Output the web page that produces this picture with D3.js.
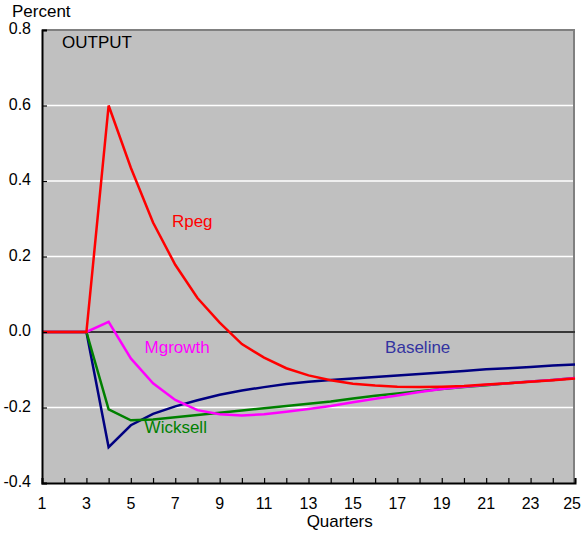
<!DOCTYPE html>
<html><head><meta charset="utf-8">
<script src="https://cdn.jsdelivr.net/npm/d3@7"></script>
<style>body{margin:0;background:#fff}svg{display:block}text{font-family:"Liberation Sans",Arial,sans-serif}</style>
</head><body>
<script>
const quarters = d3.range(1, 26);
const rpeg = [0,0,0,0.6,0.435,0.29,0.178,0.09,0.025,-0.032,-0.068,-0.096,-0.115,-0.128,-0.137,-0.142,-0.145,-0.146,-0.145,-0.143,-0.139,-0.136,-0.132,-0.128,-0.123];
const mgrowth = [0,0,0,0.027,-0.07,-0.136,-0.18,-0.207,-0.218,-0.221,-0.218,-0.211,-0.204,-0.196,-0.186,-0.177,-0.168,-0.159,-0.151,-0.145,-0.140,-0.136,-0.131,-0.127,-0.122];
const wicksell = [0,0,0,-0.205,-0.234,-0.232,-0.226,-0.220,-0.214,-0.208,-0.202,-0.196,-0.190,-0.184,-0.176,-0.169,-0.163,-0.157,-0.151,-0.146,-0.141,-0.136,-0.131,-0.127,-0.122];
const baseline = [0,0,0,-0.305,-0.247,-0.217,-0.197,-0.181,-0.166,-0.155,-0.146,-0.138,-0.132,-0.127,-0.123,-0.119,-0.115,-0.111,-0.107,-0.103,-0.099,-0.096,-0.093,-0.089,-0.086];
const xTicks = [1,3,5,7,9,11,13,15,17,19,21,23,25];
const yTicks = [-0.4,-0.2,0,0.2,0.4,0.6,0.8];
const gridVals = [-0.2,0.2,0.4,0.6];
const series = [
  {name:"Baseline", values: baseline, color:"#000080", label:"Baseline", lc:"#3333a0", lx:16.45, ly:-0.043},
  {name:"Wicksell", values: wicksell, color:"#008000", label:"Wicksell", lc:"#008000", lx:5.62, ly:-0.255},
  {name:"Mgrowth", values: mgrowth, color:"#ff00ff", label:"Mgrowth", lc:"#ff00ff", lx:5.62, ly:-0.043},
  {name:"Rpeg", values: rpeg, color:"#ff0000", label:"Rpeg", lc:"#ff0000", lx:6.85, ly:0.29}
];

const W = 582, H = 538;
const m = {l:42, r:7, t:30, b:55};
const svg = d3.select("body").append("svg").attr("width", W).attr("height", H);
const x = d3.scaleLinear().domain([1,25]).range([m.l, W - m.r]);
const y = d3.scaleLinear().domain([-0.4,0.8]).range([H - m.b, m.t]);

svg.append("rect").attr("x", m.l).attr("y", m.t).attr("width", x(25)-m.l).attr("height", y(-0.4)-m.t).attr("fill", "#c0c0c0");

svg.selectAll(".grid").data(gridVals).enter().append("line")
  .attr("x1", m.l).attr("x2", x(25)).attr("y1", d => y(d)).attr("y2", d => y(d))
  .attr("stroke", "#ffffff").attr("stroke-width", 1.5);

svg.append("line").attr("x1", m.l).attr("x2", x(25)).attr("y1", m.t).attr("y2", m.t).attr("stroke", "#808080").attr("stroke-width", 2);
svg.append("line").attr("x1", x(25)-1).attr("x2", x(25)-1).attr("y1", m.t).attr("y2", y(-0.4)).attr("stroke", "#808080").attr("stroke-width", 2);

svg.append("line").attr("x1", m.l).attr("x2", x(25)).attr("y1", y(0)).attr("y2", y(0)).attr("stroke", "#383838").attr("stroke-width", 2.2);

const line = d3.line().x((d,i) => x(quarters[i])).y(d => y(d));
series.forEach(s => {
  svg.append("path").datum(s.values).attr("d", line).attr("fill", "none")
    .attr("stroke", s.color).attr("stroke-width", 2.5).attr("stroke-linejoin", "miter");
  svg.append("text").attr("x", x(s.lx)).attr("y", y(s.ly)).attr("fill", s.lc)
    .attr("font-size", 17).attr("dominant-baseline", "middle").text(s.label);
});

const xAxis = d3.axisBottom(x).tickValues(d3.range(1,26)).tickSize(-5).tickFormat("");
const gx = svg.append("g").attr("transform", `translate(0,${y(-0.4)})`).call(xAxis);
gx.select(".domain").attr("stroke", "#000").attr("stroke-width", 2);
gx.selectAll(".tick line").attr("stroke", "#000").attr("stroke-width", 1.2);
svg.selectAll(".xl").data(xTicks).enter().append("text")
  .attr("x", d => d === 25 ? W - 1 : x(d)).attr("y", y(-0.4) + 22)
  .attr("text-anchor", d => d === 25 ? "end" : "middle")
  .attr("dominant-baseline", "middle").attr("font-size", 16).attr("fill", "#000").text(d => d);

const yAxis = d3.axisLeft(y).tickValues(yTicks).tickSize(-5).tickFormat("");
const gy = svg.append("g").attr("transform", `translate(${m.l},0)`).call(yAxis);
gy.select(".domain").attr("stroke", "#000").attr("stroke-width", 2);
gy.selectAll(".tick line").attr("stroke", "#000").attr("stroke-width", 1.2);
svg.selectAll(".yl").data(yTicks).enter().append("text")
  .attr("x", 31).attr("y", d => y(d)).attr("text-anchor", "end")
  .attr("dominant-baseline", "middle").attr("font-size", 16).attr("fill", "#000")
  .text(d => d.toFixed(1));

svg.append("text").attr("x", 12).attr("y", 13).attr("dominant-baseline", "middle").attr("font-size", 17).text("Percent");
svg.append("text").attr("x", 62).attr("y", 44).attr("dominant-baseline", "middle").attr("font-size", 17).text("OUTPUT");
svg.append("text").attr("x", x(14)+9).attr("y", 523).attr("text-anchor", "middle").attr("dominant-baseline", "middle").attr("font-size", 17).text("Quarters");
</script>
</body></html>
